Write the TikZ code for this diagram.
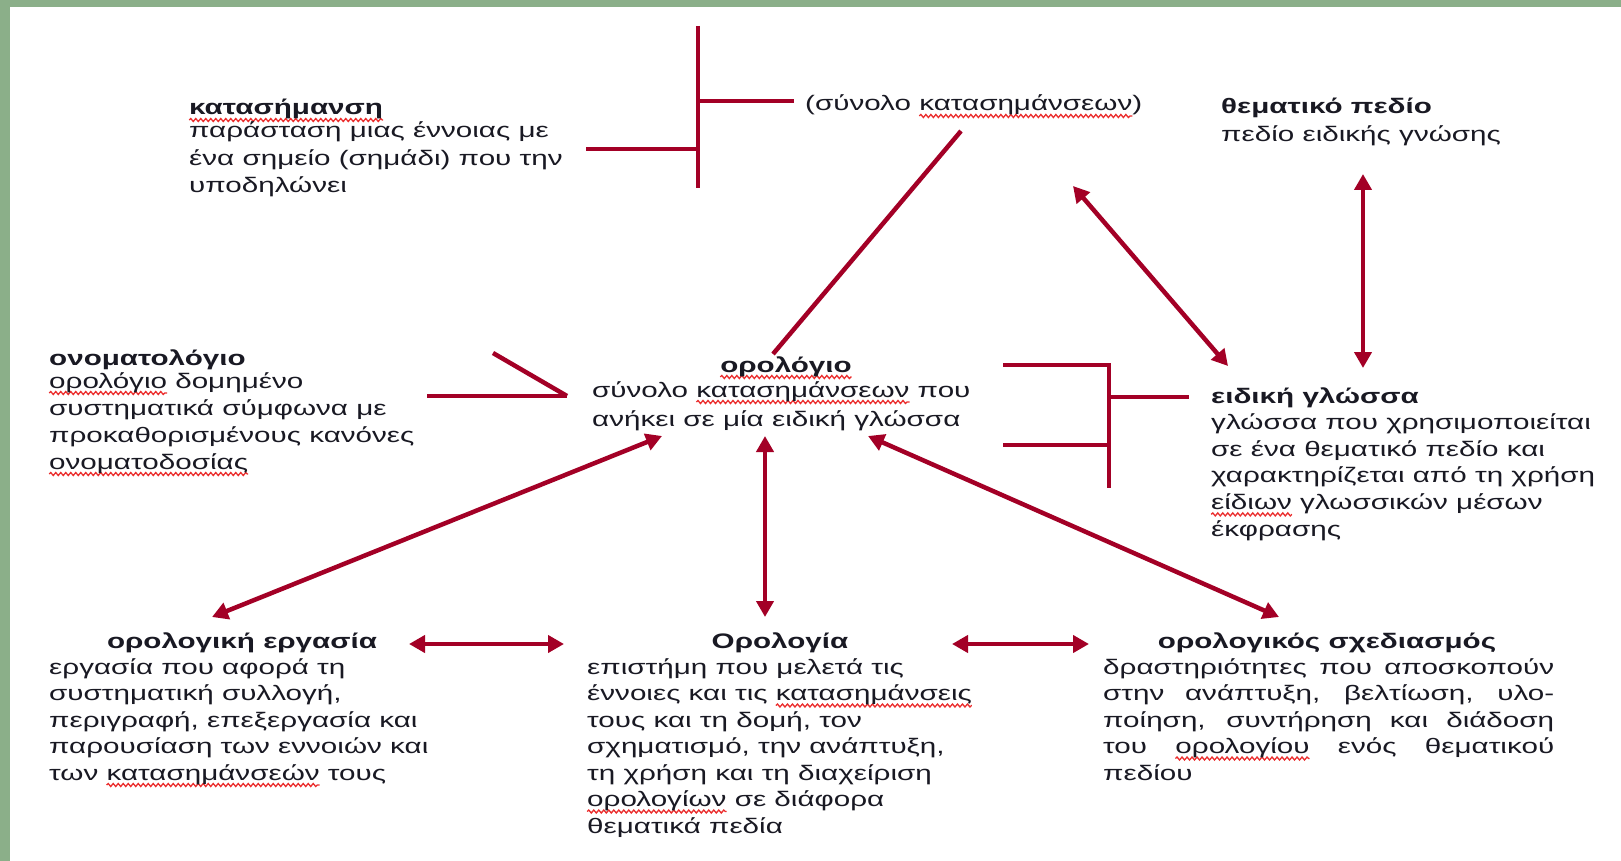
\documentclass[tikz,border=0pt]{standalone}
\usepackage{fontspec}
\setmainfont{Liberation Sans}[FakeStretch=1.41]
\usetikzlibrary{arrows.meta,decorations.pathmorphing}
\definecolor{framegreen}{RGB}{139,175,137}
\definecolor{linkred}{RGB}{163,0,38}
\definecolor{ink}{RGB}{25,25,35}
\definecolor{spellred}{RGB}{235,45,45}
\newcommand\sw[1]{\setbox0\hbox{#1}\edef\swl{\the\wd0}\rlap{\tikz[overlay,x=1pt,y=1pt,baseline=0pt]{\draw[spellred,line width=1.3pt,decorate,decoration={snake,amplitude=1.5pt,segment length=5pt}] (0pt,-5pt) -- (\swl,-5pt);}}#1}
\begin{document}
\begin{tikzpicture}[x=1pt,y=-1pt,
  txt/.style={inner sep=0pt, anchor=base west, align=left, text=ink, font=\fontsize{21}{26.5}\selectfont},
  ttl/.style={inner sep=0pt, anchor=base, text=ink, font=\fontsize{21}{26}\selectfont\bfseries},
  link/.style={draw=linkred, line width=4.5pt},
  biarrow/.style={link, {Triangle[length=16pt,width=17pt]}-{Triangle[length=16pt,width=17pt]}},
]
\useasboundingbox (0,0) rectangle (1621,861);
\fill[white] (0,0) rectangle (1621,861);
\fill[framegreen] (0,0) rectangle (1621,7);
\fill[framegreen] (0,0) rectangle (10,861);

% texts (each node is anchored at the baseline of its last line)
\node[txt, font=\fontsize{21}{27.5}\selectfont] (katasimansi) at (189,193) {\textbf{\sw{κατασήμανση}}\\[-4.5pt]παράσταση μιας έννοιας με\\ένα σημείο (σημάδι) που την\\υποδηλώνει};
\node[txt] (synolo) at (805,111) {(σύνολο \sw{κατασημάνσεων})};
\node[txt] (thematiko) at (1221,142) {\textbf{θεματικό πεδίο}\\[1.5pt]πεδίο ειδικής γνώσης};
\node[txt, font=\fontsize{21}{27}\selectfont] (onomatologio) at (49,469) {\textbf{ονοματολόγιο}\\[-4pt]\sw{ορολόγιο} δομημένο\\συστηματικά σύμφωνα με\\προκαθορισμένους κανόνες\\\sw{ονοματοδοσίας}};
\node[ttl] (orologio-t) at (786,372) {\sw{ορολόγιο}};
\node[txt] (orologio) at (592,426) {σύνολο \sw{κατασημάνσεων} που\\[2.5pt]ανήκει σε μία ειδική γλώσσα};
\node[txt, font=\fontsize{21}{26.6}\selectfont] (eidiki) at (1211,536) {\textbf{ειδική γλώσσα}\\γλώσσα που χρησιμοποιείται\\σε ένα θεματικό πεδίο και\\χαρακτηρίζεται από τη χρήση\\\sw{είδιων} γλωσσικών μέσων\\έκφρασης};
\node[ttl] (ergasia-t) at (242,648) {ορολογική εργασία};
\node[txt] (ergasia) at (49,780) {εργασία που αφορά τη\\συστηματική συλλογή,\\περιγραφή, επεξεργασία και\\παρουσίαση των εννοιών και\\των \sw{κατασημάνσεών} τους};
\node[ttl] (orologia-t) at (780,648) {Ορολογία};
\node[txt] (orologia) at (587,833) {επιστήμη που μελετά τις\\έννοιες και τις \sw{κατασημάνσεις}\\τους και τη δομή, τον\\σχηματισμό, την ανάπτυξη,\\τη χρήση και τη διαχείριση\\\sw{ορολογίων} σε διάφορα\\θεματικά πεδία};
\node[ttl] (sxediasmos-t) at (1327,648) {ορολογικός σχεδιασμός};
\node[txt] (sxediasmos) at (1103,780) {\makebox[451pt][s]{δραστηριότητες που αποσκοπούν}\\\makebox[451pt][s]{στην ανάπτυξη, βελτίωση, υλο-}\\\makebox[451pt][s]{ποίηση, συντήρηση και διάδοση}\\\makebox[451pt][s]{του \sw{ορολογίου} ενός θεματικού}\\πεδίου};

% connector end points
\coordinate (brA-top) at (698,26);
\coordinate (brA-bot) at (698,188);
\coordinate (brA-mid) at (698,101);
\coordinate (brA-low) at (698,149);
\coordinate (synolo-in) at (794,101);
\coordinate (katas-out) at (586,149);
\coordinate (synolo-foot) at (961,131);
\coordinate (orologio-head) at (773,354);
\coordinate (synolo-arr) at (1073,186);
\coordinate (eidiki-arrA) at (1228,366);
\coordinate (them-arr) at (1363,174);
\coordinate (eidiki-arrB) at (1363,368);
\coordinate (onom-tip) at (567,396);
\coordinate (onom-diag) at (493,353);
\coordinate (onom-hor) at (427,396);
\coordinate (brB-top) at (1003,365);
\coordinate (brB-corner) at (1109,365);
\coordinate (brB-bot) at (1109,488);
\coordinate (brB-low) at (1003,445);
\coordinate (brB-lowj) at (1109,445);
\coordinate (brB-mid) at (1109,397);
\coordinate (eidiki-in) at (1189,397);
\coordinate (orol-l) at (662,436);
\coordinate (orol-c) at (765,436);
\coordinate (orol-r) at (868,436);
\coordinate (erg-up) at (212,617);
\coordinate (orologia-up) at (765,617);
\coordinate (sxed-up) at (1279,617);
\coordinate (erg-r) at (409,644);
\coordinate (orologia-l) at (564,644);
\coordinate (orologia-r) at (952,644);
\coordinate (sxed-l) at (1089,644);

% connectors
\draw[link] (brA-top) -- (brA-bot);
\draw[link] (brA-mid) -- (synolo-in);
\draw[link] (katas-out) -- (brA-low);
\draw[link] (synolo-foot) -- (orologio-head);
\draw[biarrow] (synolo-arr) -- (eidiki-arrA);
\draw[biarrow] (them-arr) -- (eidiki-arrB);
\draw[link] (onom-diag) -- (onom-tip);
\draw[link] (onom-hor) -- (onom-tip);
\draw[link] (brB-top) -- (brB-corner) -- (brB-bot);
\draw[link] (brB-low) -- (brB-lowj);
\draw[link] (brB-mid) -- (eidiki-in);
\draw[biarrow] (erg-up) -- (orol-l);
\draw[biarrow] (orol-c) -- (orologia-up);
\draw[biarrow] (orol-r) -- (sxed-up);
\draw[biarrow] (erg-r) -- (orologia-l);
\draw[biarrow] (orologia-r) -- (sxed-l);
\end{tikzpicture}
\end{document}
